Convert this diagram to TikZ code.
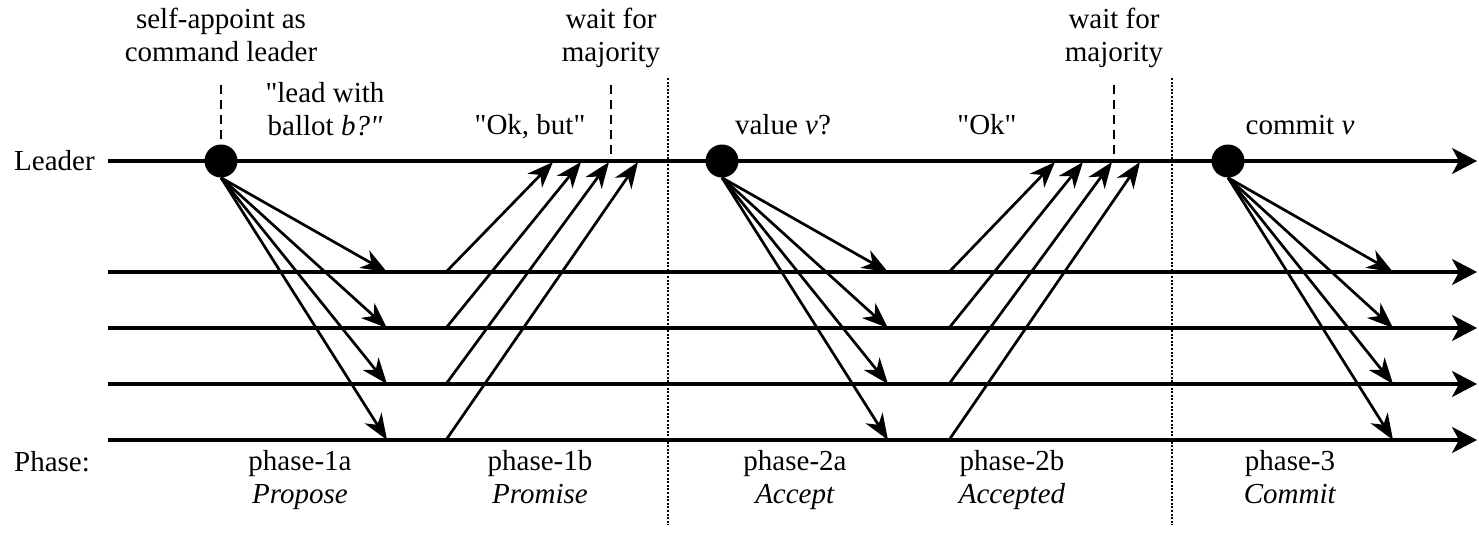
\documentclass[tikz,border=0pt]{standalone}
\usepackage{fontspec}
\setmainfont{Liberation Serif}[Ligatures=TeXOff]
\usepackage{tikz}
\usetikzlibrary{arrows.meta, positioning}

\begin{document}
\begin{tikzpicture}[
        x=1pt, y=-1pt,
        every node/.style={font=\fontsize{29}{33}\selectfont, inner sep=0pt},
        timeline/.style={line width=3.2pt, -{Stealth[length=25pt, width=26pt, inset=7pt]}},
        msg/.style={line width=2.7pt, -{Stealth[length=26pt, width=20pt, inset=8pt]}},
        event/.style={circle, fill=black, minimum size=33pt},
        waitmark/.style={line width=2.8pt, dash pattern=on 9pt off 6pt},
        phasesep/.style={line width=1.6pt, dash pattern=on 2pt off 1.6pt},
        note/.style={align=center, execute at begin node=\strut, execute at end node=\strut}
    ]
        \useasboundingbox (0,0) rectangle (1479,544);

        % time lines
        \node[note, anchor=west] (leader) at (14,164) {Leader};
        \coordinate (lw) at (108,161);
        \coordinate (le) at (1477,161);
        \draw[timeline] (lw) -- (le);
        \foreach \i/\y in {1/272,2/328,3/384,4/440}{
            \coordinate (w\i) at (108,\y);
            \coordinate (e\i) at (1477,\y);
            \draw[timeline] (w\i) -- (e\i);
        }

        % phase borders
        \coordinate (sepAtop) at (668,78);
        \coordinate (sepAbot) at (668,525);
        \coordinate (sepBtop) at (1172,78);
        \coordinate (sepBbot) at (1172,525);
        \draw[phasesep] (sepAtop) -- (sepAbot);
        \draw[phasesep] (sepBtop) -- (sepBbot);

        % leader events
        \node[event] (propose) at (221,161) {};
        \node[event] (accept) at (722,161) {};
        \node[event] (commit) at (1228,161) {};

        \coordinate (fanA) at (387,0);
        \coordinate (fanB) at (888,0);
        \coordinate (fanC) at (1393,0);
        \coordinate (backA) at (446,0);
        \coordinate (backB) at (949,0);

        \foreach \i in {1,...,4}{
            \draw[msg] (propose.south) -- (w\i -| fanA);
            \draw[msg] (accept.south) -- (w\i -| fanB);
            \draw[msg] (commit.south) -- (w\i -| fanC);
        }
        \foreach \i/\x in {1/553,2/581,3/609,4/638}{
            \coordinate (promA\i) at (\x,162);
            \draw[msg] (w\i -| backA) -- (promA\i);
        }
        \foreach \i/\x in {1/1055,2/1083,3/1112,4/1140}{
            \coordinate (promB\i) at (\x,162);
            \draw[msg] (w\i -| backB) -- (promB\i);
        }

        % waiting marks
        \coordinate (waitA) at (611,85);
        \coordinate (waitB) at (1114,85);
        \coordinate (selftop) at (221,85);
        \draw[waitmark] (selftop) -- (propose.north);
        \draw[waitmark] (waitA) -- (waitA |- lw);
        \draw[waitmark] (waitB) -- (waitB |- lw);

        % labels
        \node[note] (appoint) at (221,40) {self-appoint as\\command leader};
        \node[note] (majA) at (611,40) {wait for\\majority};
        \node[note] (majB) at (1114,40) {wait for\\majority};
        \node[note] (lead) at (325,114) {"lead with\\ballot \textit{b?"}};
        \node[note] (okbut) at (530,128) {"Ok, but"};
        \node[note] (value) at (783,128) {value \textit{v}?};
        \node[note] (ok) at (987,128) {"Ok"};
        \node[note] (commitv) at (1300,128) {commit \textit{v}};

        \node[note, anchor=west] (phase) at (14,465) {Phase:};
        \node[note] (ph1a) at (300,482) {phase-1a\\\textit{Propose}};
        \node[note] (ph1b) at (540,482) {phase-1b\\\textit{Promise}};
        \node[note] (ph2a) at (795,482) {phase-2a\\\textit{Accept}};
        \node[note] (ph2b) at (1012,482) {phase-2b\\\textit{Accepted}};
        \node[note] (ph3) at (1290,482) {phase-3\\\textit{Commit}};
    \end{tikzpicture}
\end{document}
